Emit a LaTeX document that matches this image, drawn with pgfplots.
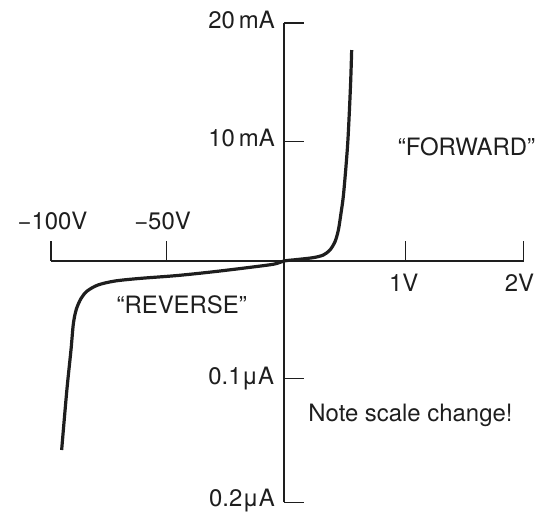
\documentclass[border=0pt]{standalone}
\usepackage{pgfplots}
\pgfplotsset{compat=1.18}
\usepackage{fontspec}
\setmainfont{TeX Gyre Heros}
\definecolor{ink}{HTML}{1E1E1E}
\begin{document}
\begin{tikzpicture}
\begin{axis}[
  x=120bp, y=120bp,
  xmin=-1.942, xmax=1.9975, ymin=-2.011, ymax=1.983,
  axis lines=middle,
  axis line style={-, line width=1.4bp, ink},
  xtick={-1.942,-0.9775,1.011,1.9975},
  ytick={-2.011,-0.9775,0.994,1.983},
  xticklabel={\relax}, yticklabel={\relax},
  tick align=inside,
  major tick length=20bp,
  tick style={line width=1.4bp, ink},
  clip=false,
  font=\fontsize{24}{28}\selectfont,
]
\addplot[ink, line width=3.2bp, smooth, tension=0.5] coordinates {
(-1.853,-1.575) (-1.81,-1.08) (-1.775,-0.74) (-1.755,-0.52) (-1.73,-0.40)
(-1.69,-0.31) (-1.64,-0.25) (-1.55,-0.20) (-1.41,-0.167) (-1.2,-0.145)
(-0.9,-0.122) (-0.6,-0.091) (-0.3,-0.055) (-0.083,-0.026) (0,0)
(0.106,0.012) (0.244,0.028) (0.328,0.05) (0.383,0.092) (0.425,0.161)
(0.453,0.258) (0.475,0.398) (0.494,0.536) (0.514,0.758) (0.531,0.981)
(0.544,1.231) (0.556,1.508) (0.564,1.758)
};
\node[anchor=base, text=ink] at (axis cs:-1.929,0.264) {−100V};
\node[anchor=base, text=ink] at (axis cs:-1.0125,0.264) {−50V};
\node[anchor=base, text=ink] at (axis cs:0.9975,-0.256) {1V};
\node[anchor=base, text=ink] at (axis cs:1.9625,-0.256) {2V};
\node[anchor=base east, inner sep=0pt, text=ink] at (axis cs:-0.075,1.939) {20\,mA};
\node[anchor=base east, inner sep=0pt, text=ink] at (axis cs:-0.075,0.9525) {10\,mA};
\node[anchor=base east, inner sep=0pt, text=ink] at (axis cs:-0.081,-1.033) {0.1μA};
\node[anchor=base east, inner sep=0pt, text=ink] at (axis cs:-0.075,-2.0475) {0.2μA};
\node[anchor=base, text=ink] at (axis cs:1.521,0.875) {“FORWARD”};
\node[anchor=base, text=ink] at (axis cs:-0.8525,-0.436) {“REVERSE”};
\node[anchor=base, text=ink] at (axis cs:1.054,-1.339) {Note scale change!};
\coordinate (BL) at (axis cs:-2.3667,-2.15);
\coordinate (TR) at (axis cs:2.2083,2.175);
\end{axis}
\pgfresetboundingbox
\path (BL) rectangle (TR);
\end{tikzpicture}
\end{document}
